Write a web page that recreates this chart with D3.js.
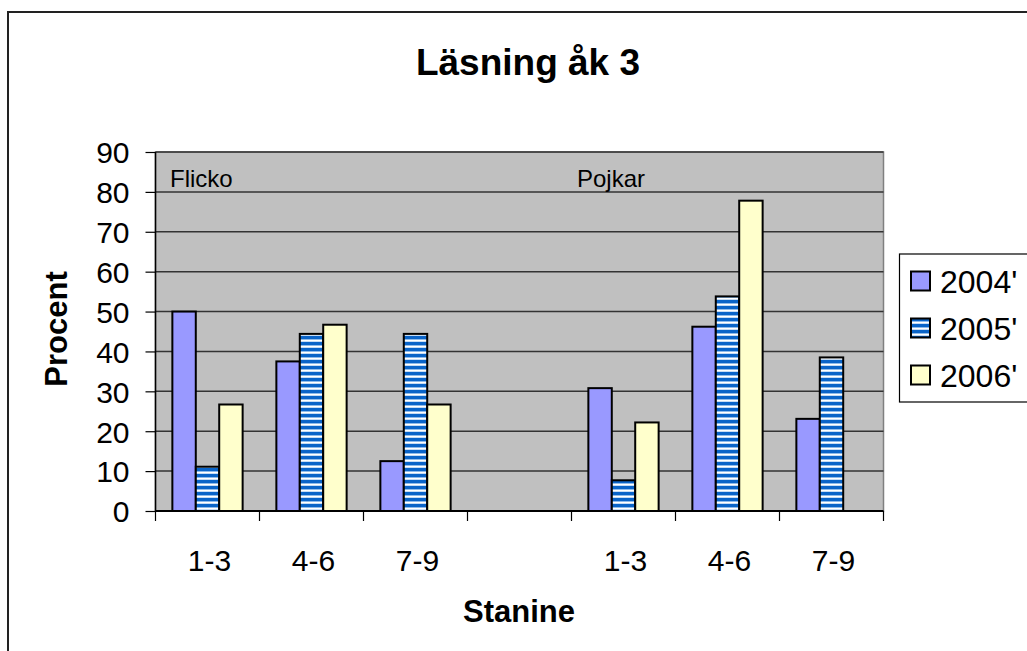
<!DOCTYPE html>
<html>
<head>
<meta charset="utf-8">
<script src="https://cdn.jsdelivr.net/npm/d3@7"></script>
<style>
html,body{margin:0;padding:0;background:#fff;overflow:hidden;}
svg{display:block;font-family:"Liberation Sans",Arial,sans-serif;}
</style>
</head>
<body>
<svg id="chart" width="1027" height="651"></svg>
<script>
// ---- data ----
const categories = ["1-3","4-6","7-9","","1-3","4-6","7-9"];
const seriesNames = ["2004'","2005'","2006'"];
const values2004 = [50, 37.5, 12.5, null, 30.8, 46.2, 23.1];
const values2005 = [11.1, 44.4, 44.4, null, 7.7, 53.8, 38.5];
const values2006 = [26.7, 46.7, 26.7, null, 22.2, 77.8, null];
const yTicks = [0,10,20,30,40,50,60,70,80,90];
const groupLabels = ["Flicko","Pojkar"];
const chartTitle = "Läsning åk 3";
const xTitle = "Stanine";
const yTitle = "Procent";

(function(){
const seriesValues = [values2004, values2005, values2006];

const svg = d3.select("#chart");
const defs = svg.append("defs");
const pat = defs.append("pattern").attr("id","stripes").attr("patternUnits","userSpaceOnUse")
  .attr("width",6).attr("height",6);
pat.append("rect").attr("width",6).attr("height",6).attr("fill","#ffffff");
pat.append("rect").attr("y",0).attr("width",6).attr("height",3).attr("fill","#0a64c8");
pat.append("rect").attr("y",3).attr("width",6).attr("height",1).attr("fill","#8fbbea");
pat.append("rect").attr("y",5).attr("width",6).attr("height",1).attr("fill","#c6dcf4");

const fills = ["#9999ff","url(#stripes)","#ffffcc"];

// outer border
svg.append("rect").attr("x",8).attr("y",12).attr("width",1100).attr("height",700)
  .attr("fill","#fff").attr("stroke","#222").attr("stroke-width",2);

const pLeft = 155.5, pRight = 883.5, pTop = 152, pBottom = 511;
const x0 = d3.scaleBand().domain(d3.range(categories.length)).range([pLeft,pRight]).padding(0);
const x1 = d3.scaleBand().domain(d3.range(seriesNames.length)).range([0,x0.bandwidth()])
  .paddingInner(0).paddingOuter(0.72);
const y = d3.scaleLinear().domain([0,90]).range([pBottom,pTop]);

// plot area
svg.append("rect").attr("x",pLeft).attr("y",pTop).attr("width",pRight-pLeft).attr("height",pBottom-pTop)
  .attr("fill","#c0c0c0").attr("stroke","#808080").attr("stroke-width",1.5);

// gridlines
svg.append("g").selectAll("line").data(yTicks.filter(d=>d>0)).join("line")
  .attr("x1",pLeft).attr("x2",pRight).attr("y1",d=>y(d)).attr("y2",d=>y(d))
  .attr("stroke","#333").attr("stroke-width",1.5);

// group labels
svg.append("text").attr("x",170).attr("y",187).attr("font-size",24).attr("fill","#000").text(groupLabels[0]);
svg.append("text").attr("x",577).attr("y",187).attr("font-size",24).attr("fill","#000").text(groupLabels[1]);

// bars
const barG = svg.append("g");
seriesValues.forEach((vals,si)=>{
  barG.append("g").selectAll("rect").data(vals.map((v,i)=>({v,i})).filter(d=>d.v!=null)).join("rect")
    .attr("x",d=>x0(d.i)+x1(si))
    .attr("y",d=>y(d.v))
    .attr("width",x1.bandwidth())
    .attr("height",d=>y(0)-y(d.v))
    .attr("fill",fills[si]).attr("stroke","#000").attr("stroke-width",2);
});

// y axis
const yAxis = d3.axisLeft(y).tickValues(yTicks).tickSize(10).tickPadding(16).tickFormat(d3.format("d"));
const ya = svg.append("g").attr("transform",`translate(${pLeft},0)`).call(yAxis);
ya.select(".domain").attr("stroke","#000").attr("stroke-width",1.5).attr("d",`M0,${pTop}V${pBottom}`);
ya.selectAll(".tick line").attr("stroke","#000").attr("stroke-width",1.2);
ya.selectAll(".tick text").attr("font-size",30).attr("font-family","Liberation Sans, Arial, sans-serif").attr("fill","#000").attr("dy","0.36em");

// x axis
const edges = d3.range(categories.length+1).map(i=> i<categories.length ? x0(i) : pRight);
const xa = svg.append("g");
xa.append("line").attr("x1",pLeft).attr("x2",pRight).attr("y1",pBottom).attr("y2",pBottom)
  .attr("stroke","#000").attr("stroke-width",2);
xa.selectAll("line.t").data(edges).join("line").attr("class","t")
  .attr("x1",d=>d).attr("x2",d=>d).attr("y1",pBottom).attr("y2",pBottom+10)
  .attr("stroke","#000").attr("stroke-width",1.2);
xa.selectAll("text").data(categories).join("text")
  .attr("x",(d,i)=>x0(i)+x0.bandwidth()/2+2).attr("y",571)
  .attr("text-anchor","middle").attr("font-size",30).attr("fill","#000").text(d=>d);

// titles
svg.append("text").attr("x",528).attr("y",75).attr("text-anchor","middle")
  .attr("font-size",37).attr("font-weight","bold").text(chartTitle);
svg.append("text").attr("x",519).attr("y",622).attr("text-anchor","middle")
  .attr("font-size",31).attr("font-weight","bold").text(xTitle);
svg.append("text").attr("transform","translate(67,329) rotate(-90)").attr("text-anchor","middle")
  .attr("font-size",31).attr("font-weight","bold").text(yTitle);

// legend
const lg = svg.append("g");
lg.append("rect").attr("x",899.5).attr("y",254).attr("width",200).attr("height",148)
  .attr("fill","#fff").attr("stroke","#000").attr("stroke-width",1.2);
seriesNames.forEach((s,i)=>{
  const cy = 281 + i*47;
  lg.append("rect").attr("x",911).attr("y",cy-9.5).attr("width",19).attr("height",19)
    .attr("fill",fills[i]).attr("stroke","#000").attr("stroke-width",2);
  lg.append("text").attr("x",940).attr("y",cy+11.5).attr("font-size",32).attr("fill","#000").text(s);
});
})();
</script>
</body>
</html>
